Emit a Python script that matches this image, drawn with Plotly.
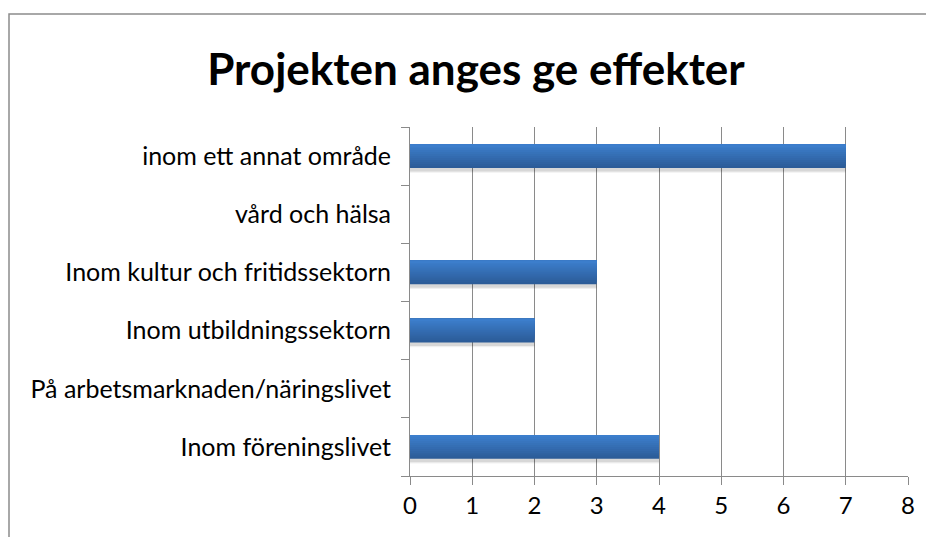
import plotly.graph_objects as go

categories = [
    "Inom föreningslivet",
    "På arbetsmarknaden/näringslivet",
    "Inom utbildningssektorn",
    "Inom kultur och fritidssektorn",
    "vård och hälsa",
    "inom ett annat område",
]
values = [4, 0, 2, 3, 0, 7]
x_ticks = [0, 1, 2, 3, 4, 5, 6, 7, 8]
title_text = "Projekten anges ge effekter"

FONT = "Lato, Open Sans, sans-serif"
GRID = "#8a8a8a"

# page has an 8px body margin; compensate so the plot area lands where the reference has it
OFF = 8
L, R, T, B = 410 - OFF, 934 + OFF - 908, 127 - OFF, 537 + OFF - 476
PW, PH = 934 - L - R, 537 - T - B

fig = go.Figure()

BAR_W = 0.41
# soft shadow under each bar (two layers)
for extra, shift, alpha in [(0.06, 0.08, 0.06), (0.03, 0.06, 0.10)]:
    fig.add_trace(go.Bar(
        y=categories, x=values, orientation="h",
        marker=dict(color="rgba(0,0,0,%.2f)" % alpha, line=dict(width=0)),
        width=BAR_W + extra, offset=-(BAR_W / 2) - shift,
        showlegend=False, hoverinfo="skip",
    ))

# vertical gradient: each layer starts a bit higher and runs to the bar top,
# painted dark -> light so no seams appear
N = 12
top_c = (0x3c, 0x7e, 0xcc)
bot_c = (0x2c, 0x5c, 0x98)
for i in range(N):
    f = i / (N - 1)
    c = tuple(round(bot_c[k] + (top_c[k] - bot_c[k]) * f) for k in range(3))
    start = -BAR_W / 2 + i * BAR_W / N
    fig.add_trace(go.Bar(
        y=categories, x=values, orientation="h",
        marker=dict(color="rgb(%d,%d,%d)" % c, line=dict(width=0)),
        width=BAR_W / 2 - start, offset=start,
        showlegend=False, hoverinfo="skip" if i else None,
    ))

fig.update_layout(
    width=934, height=537,
    barmode="overlay",
    margin=dict(l=L, r=R, t=T, b=B),
    paper_bgcolor="white", plot_bgcolor="white",
    title=dict(text=f"<b>{title_text}</b>", x=(476 - OFF - L) / PW,
               xref="paper", xanchor="center",
               y=1 - (70 - OFF) / 537, yanchor="middle",
               font=dict(family=FONT, size=44, color="black")),
    font=dict(family=FONT, size=25, color="black"),
    xaxis=dict(range=[0, 8], tickvals=x_ticks, showgrid=True, gridcolor=GRID,
               gridwidth=1.3, showline=True, linecolor=GRID, linewidth=1.3,
               ticks="outside", ticklen=8, tickcolor=GRID, tickwidth=1.3,
               zeroline=False, tickfont=dict(size=24), fixedrange=True),
    yaxis=dict(categoryorder="array", categoryarray=categories,
               showline=True, linecolor=GRID, linewidth=1.3,
               ticks="outside", tickson="boundaries", ticklen=8, tickcolor=GRID,
               tickwidth=1.3, showgrid=False, ticksuffix="  ",
               tickfont=dict(size=25), fixedrange=True),
    shapes=[dict(type="rect", xref="paper", yref="paper",
                 x0=(9 - OFF - L) / PW, x1=1 + 60 / PW,
                 y0=-(120) / PH, y1=1 + (T - (14 - OFF)) / PH,
                 line=dict(color="#8c8c8c", width=1.5), layer="below")],
)

fig.write_html("out.html")
